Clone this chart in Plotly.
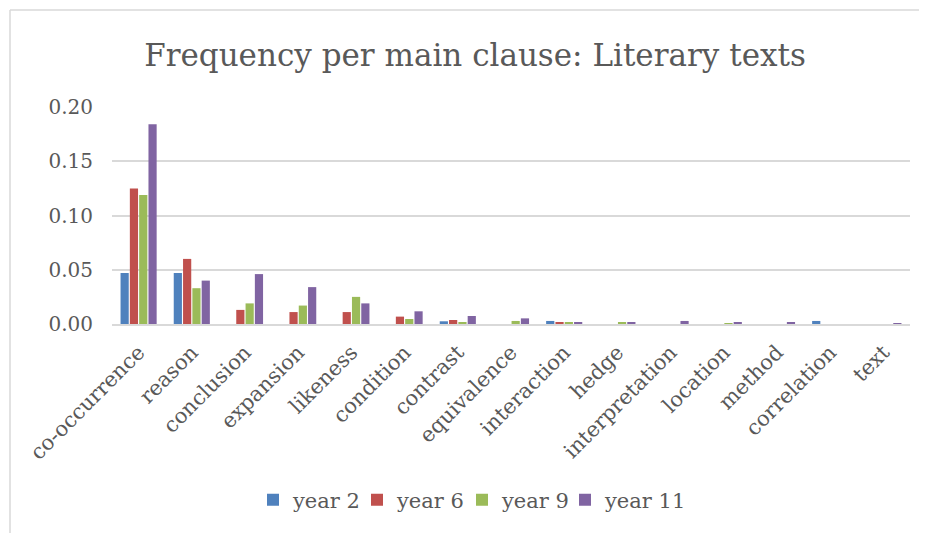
import plotly.graph_objects as go

categories = ["co-occurrence", "reason", "conclusion", "expansion", "likeness", "condition",
              "contrast", "equivalence", "interaction", "hedge", "interpretation", "location",
              "method", "correlation", "text"]
year2 = [0.047, 0.047, 0, 0, 0, 0, 0.0025, 0, 0.0028, 0, 0, 0, 0, 0.0028, 0]
year6 = [0.125, 0.060, 0.013, 0.011, 0.011, 0.0068, 0.0037, 0, 0.001, 0, 0, 0, 0, 0, 0]
year9 = [0.119, 0.033, 0.019, 0.017, 0.025, 0.0046, 0.0018, 0.0028, 0.0018, 0.001, 0, 0.0005, 0, 0, 0]
year11 = [0.184, 0.040, 0.046, 0.034, 0.019, 0.0117, 0.0074, 0.0052, 0.001, 0.001, 0.0028, 0.0018, 0.0018, 0, 0.0005]
series = [("year 2", year2, "#4F81BD"), ("year 6", year6, "#C0504D"),
          ("year 9", year9, "#9BBB59"), ("year 11", year11, "#8064A2")]
y_ticks = [0.0, 0.05, 0.10, 0.15, 0.20]

FONT = "DejaVu Serif"
TXT = "#595959"
OFF = 8  # page body margin
W, H = 927 - OFF, 533 - OFF
ml, mr, mt, mb = 112 - OFF, 17, 107 - OFF, 209
pw = W - ml - mr
ph = H - mt - mb


def px_x(x):  # page pixel -> paper x
    return (x - OFF - ml) / pw


def px_y(y):  # page pixel -> paper y
    return 1 - (y - OFF - mt) / ph


legend_names = ["legend", "legend2", "legend3", "legend4"]
legend_left = [253, 357, 462, 565]

fig = go.Figure()
for (name, vals, col), lg in zip(series, legend_names):
    fig.add_trace(go.Bar(name=name, x=categories, y=vals, marker_color=col,
                         marker_line_width=0, legend=lg))

leg_common = dict(orientation="h", xanchor="left", y=px_y(500), yanchor="middle",
                  font=dict(size=21, family=FONT, color=TXT), itemwidth=30,
                  traceorder="normal", bgcolor="rgba(0,0,0,0)")
legends = {lg: dict(x=px_x(xl), **leg_common) for lg, xl in zip(legend_names, legend_left)}

fig.update_layout(
    width=W, height=H,
    margin=dict(l=ml, r=mr, t=mt, b=mb),
    paper_bgcolor="white", plot_bgcolor="white",
    barmode="group", bargap=0.3, bargroupgap=0.12,
    font=dict(family=FONT, color=TXT),
    title=dict(text="Frequency per main clause: Literary texts", xref="paper", x=px_x(475),
               xanchor="center", yref="container", y=1 - (55 - OFF) / H, yanchor="middle",
               font=dict(size=31, family=FONT, color=TXT)),
    xaxis=dict(tickangle=-45, tickfont=dict(size=21, family=FONT, color=TXT), automargin=False,
               showline=True, linecolor="#D9D9D9", linewidth=1.5, ticks="outside", ticklen=6,
               tickcolor="rgba(0,0,0,0)", showgrid=False),
    yaxis=dict(range=[0, 0.2], tickvals=y_ticks, tickformat=".2f", automargin=False,
               tickfont=dict(size=20, family=FONT, color=TXT), ticklabelstandoff=18,
               showgrid=True, gridcolor="#D9D9D9", gridwidth=1.5, zeroline=False,
               ticks="", showline=False),
    showlegend=True,
    **legends,
)
fig.add_shape(type="line", xref="paper", yref="paper", x0=px_x(10), x1=px_x(10),
              y0=px_y(540), y1=px_y(10), line=dict(color="#D9D9D9", width=1.5))
fig.add_shape(type="line", xref="paper", yref="paper", x0=px_x(10), x1=px_x(940),
              y0=px_y(10), y1=px_y(10), line=dict(color="#D9D9D9", width=1.5))
fig.write_html("out.html")
